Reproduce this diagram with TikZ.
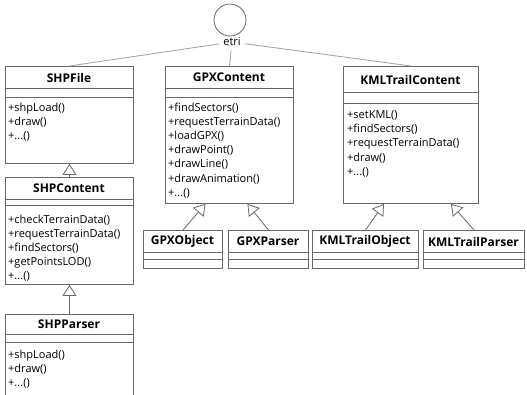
\documentclass[tikz,border=0pt]{standalone}
\usepackage{fontspec}
\setmainfont{Open Sans}
\usetikzlibrary{arrows.meta}
\definecolor{boxgray}{HTML}{686868}
\definecolor{linegray}{HTML}{A0A0A0}
\begin{document}
\begin{tikzpicture}[x=1pt,y=-1pt,
  box/.style={draw=boxgray, line width=0.9pt, anchor=north west, inner sep=0pt},
  title/.style={font=\bfseries\fontsize{12}{13}\selectfont, inner sep=0pt},
  ops/.style={font=\fontsize{11}{14.2}\selectfont, align=left, anchor=north west, inner sep=0pt},
  sep/.style={draw=boxgray, line width=0.9pt},
  inherit/.style={draw=boxgray, line width=0.8pt, -{Triangle[open,length=11pt,width=14pt]}},
  assoc/.style={draw=linegray, line width=0.8pt}]
\useasboundingbox (0,0) rectangle (527,394);
\clip (0,0) rectangle (527,394);

% etri
\node[circle, draw=boxgray, line width=0.8pt, minimum size=32pt, inner sep=0pt] (circ) at (230,20) {};
\node[font=\fontsize{11}{12}\selectfont, inner sep=4pt] (etri) at (232,42) {etri};

% SHPFile
\node[box, minimum width=128pt, minimum height=97pt] (shpfile) at (5,66) {};
\draw[sep] ([yshift=-22pt]shpfile.north west) -- ([yshift=-22pt]shpfile.north east);
\draw[sep] ([yshift=-31pt]shpfile.north west) -- ([yshift=-31pt]shpfile.north east);
\node[title] (shpfilet) at (69,77.5) {SHPFile};
\node[ops] (shpfileo) at (8,102.5) {+shpLoad()\\+draw()\\+...()};

% GPXContent
\node[box, minimum width=128pt, minimum height=137pt] (gpxc) at (165,66) {};
\draw[sep] ([yshift=-22pt]gpxc.north west) -- ([yshift=-22pt]gpxc.north east);
\draw[sep] ([yshift=-31pt]gpxc.north west) -- ([yshift=-31pt]gpxc.north east);
\node[title] (gpxct) at (229,77.5) {GPXContent};
\node[ops] (gpxco) at (168,102.5) {+findSectors()\\+requestTerrainData()\\+loadGPX()\\+drawPoint()\\+drawLine()\\+drawAnimation()\\+...()};

% KMLTrailContent
\node[box, minimum width=135pt, minimum height=137pt] (kmlc) at (343,66) {};
\draw[sep] ([yshift=-26pt]kmlc.north west) -- ([yshift=-26pt]kmlc.north east);
\draw[sep] ([yshift=-37pt]kmlc.north west) -- ([yshift=-37pt]kmlc.north east);
\node[title] (kmlct) at (410.5,79.5) {KMLTrailContent};
\node[ops] (kmlco) at (347,110.5) {+setKML()\\+findSectors()\\+requestTerrainData()\\+draw()\\+...()};

% SHPContent
\node[box, minimum width=128pt, minimum height=107pt] (shpc) at (5,177) {};
\draw[sep] ([yshift=-22pt]shpc.north west) -- ([yshift=-22pt]shpc.north east);
\draw[sep] ([yshift=-28pt]shpc.north west) -- ([yshift=-28pt]shpc.north east);
\node[title] (shpct) at (69,188) {SHPContent};
\node[ops] (shpco) at (8,214.5) {+checkTerrainData()\\+requestTerrainData()\\+findSectors()\\+getPointsLOD()\\+...()};

% SHPParser
\node[box, minimum width=128pt, minimum height=95pt] (shpp) at (5,314) {};
\draw[sep] ([yshift=-20pt]shpp.north west) -- ([yshift=-20pt]shpp.north east);
\draw[sep] ([yshift=-28pt]shpp.north west) -- ([yshift=-28pt]shpp.north east);
\node[title] (shppt) at (69,324.5) {SHPParser};
\node[ops] (shppo) at (8,349.5) {+shpLoad()\\+draw()\\+...()};

% small boxes
\node[box, minimum width=79pt, minimum height=38pt] (gpxo) at (143,230) {};
\node[box, minimum width=80pt, minimum height=38pt] (gpxp) at (228,230) {};
\node[box, minimum width=106pt, minimum height=38pt] (kmlo) at (312,230) {};
\node[box, minimum width=101pt, minimum height=38pt] (kmlp) at (423,230) {};
\foreach \b in {gpxo,gpxp,kmlo,kmlp}{
  \draw[sep] ([yshift=-22pt]\b.north west) -- ([yshift=-22pt]\b.north east);
  \draw[sep] ([yshift=-29pt]\b.north west) -- ([yshift=-29pt]\b.north east);
}
\node[title] (gpxot) at (182.5,241.5) {GPXObject};
\node[title] (gpxpt) at (268,241.5) {GPXParser};
\node[title] (kmlot) at (365,241.5) {KMLTrailObject};
\node[title] (kmlpt) at (473.5,241.5) {KMLTrailParser};

% associations
\draw[assoc] (etri) -- (shpfile.north);
\draw[assoc] (etri) -- (gpxc.north);
\draw[assoc] (etri) -- (kmlc.north);

% inheritance
\draw[inherit] (shpc.north) -- (shpfile.south);
\draw[inherit] (shpp.north) -- (shpc.south);
\draw[inherit] (gpxo.north) -- ([xshift=-24pt]gpxc.south);
\draw[inherit] (gpxp.north) -- ([xshift=18pt]gpxc.south);
\draw[inherit] (kmlo.north) -- ([xshift=-27pt]kmlc.south);
\draw[inherit] (kmlp.north) -- ([xshift=40pt]kmlc.south);
\end{tikzpicture}
\end{document}
